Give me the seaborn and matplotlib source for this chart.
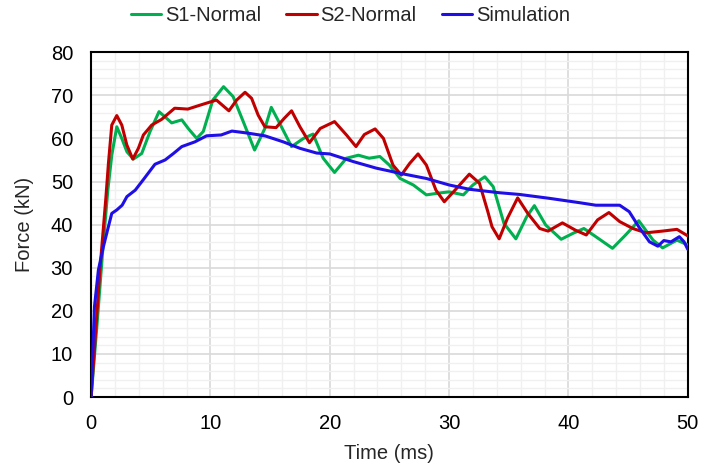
import matplotlib
matplotlib.use("Agg")
import matplotlib.pyplot as plt
import seaborn as sns
import pandas as pd
from matplotlib.ticker import MultipleLocator

s1_t = [0, 0.5, 1.0, 1.4, 1.73, 2.15, 2.57, 3.0, 3.54, 4.24, 4.94, 5.69, 6.19, 6.75, 7.6, 8.14,
        8.85, 9.4, 10.2, 11.1, 11.9, 12.75, 13.7, 14.56, 15.1, 15.8, 16.8, 17.8, 18.6, 19.45,
        20.4, 21.4, 22.4, 23.3, 24.2, 25.0, 25.9, 27.0, 28.1, 29.1, 30.0, 31.2, 32.0, 33.0,
        33.7, 34.6, 35.6, 36.5, 37.15, 38.1, 39.4, 40.4, 41.3, 42.3, 43.7, 44.8, 45.9, 47.1,
        47.9, 49.1, 50]
s1_f = [0, 17, 35, 48, 56.1, 62.7, 60, 56.9, 55.2, 56.5, 61.6, 66.2, 65, 63.6, 64.3, 62.3,
        60, 61.6, 68.9, 72, 69.7, 63.9, 57.3, 62.3, 67.2, 63.5, 58.1, 60, 61, 55.4,
        52.1, 55.4, 56.1, 55.4, 55.8, 53.8, 50.7, 49.2, 46.9, 47.3, 47.6, 46.9, 49.2, 51.1,
        48.8, 40.3, 36.7, 41.8, 44.4, 39.9, 36.6, 38, 39.1, 37.2, 34.5, 37.6, 40.9, 36.4,
        34.6, 36.4, 35.3]

s2_t = [0, 0.5, 0.75, 1.23, 1.45, 1.73, 2.15, 2.57, 2.99, 3.49, 3.96, 4.38, 5.08, 5.9, 7.0,
        8.1, 9.0, 10.5, 11.55, 12.2, 12.9, 13.45, 14.0, 14.56, 15.5, 16.2, 16.8, 17.5, 18.3,
        19.2, 20.4, 21.4, 22.2, 22.9, 23.8, 24.5, 25.3, 26.0, 26.7, 27.4, 28.1, 28.9, 29.6,
        30.5, 31.7, 32.55, 33.25, 33.6, 34.2, 34.9, 35.75, 36.6, 37.6, 38.3, 39.5, 40.6, 41.5,
        42.45, 43.4, 44.3, 45.4, 46.5, 47.9, 49.1, 50]
s2_f = [0, 20, 30, 46, 54.2, 63.1, 65.3, 63.1, 58.5, 55.2, 57.7, 60.8, 63.1, 64.4, 67,
        66.8, 67.6, 68.9, 66.4, 68.9, 70.7, 69.3, 65.4, 62.7, 62.5, 64.7, 66.4, 62.7, 59,
        62.3, 63.9, 60.8, 58.1, 60.9, 62.2, 60, 53.8, 51.5, 54.2, 56.4, 53.8, 48, 45.3,
        48, 51.7, 49.6, 43, 39.5, 36.7, 41.5, 46.2, 42.6, 39.1, 38.5, 40.4, 38.7, 37.6,
        41.1, 42.8, 40.7, 39.1, 38.1, 38.5, 38.9, 37.4]

sim_t = [0, 0.28, 0.61, 1.03, 1.4, 1.73, 2.15, 2.6, 3.0, 3.7, 4.45, 5.35, 6.2, 6.9, 7.6, 8.7,
         9.68, 10.9, 11.8, 13.2, 14.56, 16.1, 17.5, 18.9, 20.0, 22.0, 23.9, 25.9, 28.1, 30.0,
         31.7, 34.2, 35.9, 38.4, 40.9, 42.3, 44.3, 45.1, 45.9, 46.8, 47.5, 48.0, 48.6, 49.3,
         49.7, 50]
sim_f = [0, 21, 29.5, 34.9, 39, 42.6, 43.4, 44.5, 46.5, 48, 50.7, 54, 55, 56.5, 58.1, 59.2,
         60.6, 60.8, 61.7, 61.2, 60.6, 59.2, 57.7, 56.6, 56.4, 54.6, 53.1, 51.9, 50.7, 49.2,
         48.2, 47.4, 47, 46.1, 45.1, 44.5, 44.5, 43, 39.5, 36, 35, 36.3, 36, 37.2,
         36, 34.3]

series_names = ["S1-Normal", "S2-Normal", "Simulation"]
colors = ["#00B050", "#C00000", "#1F0FE6"]

df = pd.concat([
    pd.DataFrame({"Time": s1_t, "Force": s1_f, "Series": series_names[0]}),
    pd.DataFrame({"Time": s2_t, "Force": s2_f, "Series": series_names[1]}),
    pd.DataFrame({"Time": sim_t, "Force": sim_f, "Series": series_names[2]}),
], ignore_index=True)

sns.set_style("white")
plt.rcParams["font.family"] = ["Liberation Sans", "DejaVu Sans"]

FS = 14.5
fig, ax = plt.subplots(figsize=(7.01, 4.66), dpi=100)
fig.subplots_adjust(left=0.13, right=0.981, top=0.888, bottom=0.148)

sns.lineplot(data=df, x="Time", y="Force", hue="Series", palette=dict(zip(series_names, colors)),
             estimator=None, sort=False, linewidth=2.2, ax=ax, legend=False, zorder=3)
for ln in ax.get_lines():
    ln.set_solid_joinstyle("round")
    ln.set_solid_capstyle("round")

ax.set_xlim(0, 50)
ax.set_ylim(0, 80)
ax.xaxis.set_major_locator(MultipleLocator(10))
ax.yaxis.set_major_locator(MultipleLocator(10))
ax.xaxis.set_minor_locator(MultipleLocator(2))
ax.yaxis.set_minor_locator(MultipleLocator(2))
ax.grid(which="major", color="#D9D9D9", linewidth=1.2, zorder=0)
ax.grid(which="minor", color="#F0F0F0", linewidth=1.0, zorder=0)
ax.set_axisbelow(True)
ax.tick_params(which="both", length=0, labelsize=FS, colors="black")
ax.tick_params(axis="y", pad=13)
ax.tick_params(axis="x", pad=12)
for sp in ax.spines.values():
    sp.set_color("black")
    sp.set_linewidth(1.5)
    sp.set_visible(True)

ax.set_xlabel("Time (ms)", fontsize=FS, labelpad=8)
ax.set_ylabel("Force (kN)", fontsize=FS, labelpad=12)

handles = [plt.Line2D([0], [0], color=c, linewidth=2.2) for c in colors]
fig.legend(handles, series_names, loc="upper center", bbox_to_anchor=(0.5, 1.025), ncol=3,
           frameon=False, fontsize=FS, handlelength=1.5, handletextpad=0.2, columnspacing=1.25)

fig.savefig("out.png", dpi=100)
